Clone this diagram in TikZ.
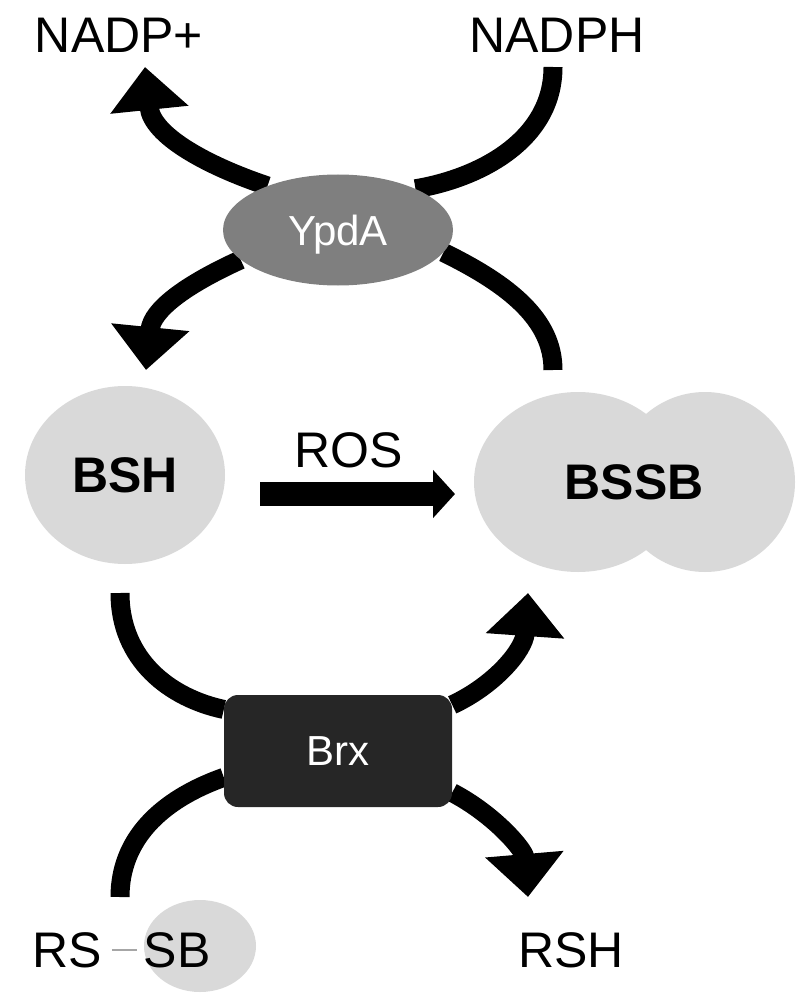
\documentclass[tikz,border=0pt]{standalone}
\usepackage{fontspec}
\setmainfont{Liberation Sans}
\usetikzlibrary{arrows.meta,shapes.geometric,backgrounds}

\definecolor{lightgrey}{HTML}{D9D9D9}
\definecolor{midgrey}{HTML}{7F7F7F}
\definecolor{darkbox}{HTML}{262626}
\definecolor{dashgrey}{HTML}{A6A6A6}

\tikzset{
  big/.style={font=\fontsize{50}{60}\selectfont, inner sep=0pt},
  enz/.style={font=\fontsize{42}{50}\selectfont, text=white, inner sep=0pt},
  thiol/.style={ellipse, fill=lightgrey, inner sep=0pt},
  flow/.style={line width=19pt},
  head/.style={flow, -{Triangle[width=76pt,length=43pt]}},
}

\begin{document}
\begin{tikzpicture}[x=1pt,y=-1pt]
    \useasboundingbox (0,0) rectangle (800,1000);

    % enzymes
    \node[ellipse, fill=midgrey, minimum width=230pt, minimum height=111pt, enz, text depth=0pt] (ypda) at (338,230) {YpdA};
    \node[rectangle, rounded corners=14pt, fill=darkbox, minimum width=228pt, minimum height=112pt, enz] (brx) at (338,751) {Brx};

    % thiols
    \node[thiol, minimum width=200pt, minimum height=178pt, big] (bsh) at (125,475) {\textbf{BSH}};
    \node[thiol, minimum width=208pt, minimum height=180pt] (bssbl) at (578,482) {};
    \node[thiol, minimum width=180pt, minimum height=180pt] (bssbr) at (705,482) {};
    \node[big] (bssb) at (634,482) {\textbf{BSSB}};
    \node[thiol, minimum width=112pt, minimum height=92pt] (sbbg) at (200,946) {};

    % labels
    \node[big, anchor=base] (nadpp) at (119,53) {NADP+};
    \node[big, anchor=base] (nadph) at (557,53) {NADPH};
    \node[big, anchor=base] (ros) at (349,467) {ROS};
    \node[big, anchor=base] (rs) at (67,967) {RS};
    \node[big, anchor=base] (sb) at (177,967) {SB};
    \node[big, anchor=base] (rsh) at (571,967) {RSH};
    \draw[dashgrey, line width=2.5pt, shorten <=10pt, shorten >=6pt] (rs.east) -- (sb.west);

    % free ends
    \coordinate (nadpptip) at (145,67);
    \coordinate (nadphend) at (553,67);
    \coordinate (bshtip) at (146,370);
    \coordinate (bssbend) at (553,370);
    \coordinate (bshend) at (120,593);
    \coordinate (bssbtip) at (528,593);
    \coordinate (rssbend) at (120,897);
    \coordinate (rshtip) at (528,897);
    \coordinate (ros1) at (260,494);
    \coordinate (ros2) at (455,494);

    \begin{scope}[on background layer]
        \draw[head] (ypda.148) .. controls (205,165) and (152,135) .. (nadpptip);
        \draw[flow] (nadphend) .. controls (553,140) and (480,178) .. (ypda.28);
        \draw[head] (ypda.197) .. controls (185,285) and (152,310) .. (bshtip);
        \draw[flow] (ypda.-12) .. controls (510,285) and (553,320) .. (bssbend);
        \draw[flow] (bshend) .. controls (120,660) and (170,698) .. (brx.160);
        \draw[head] (brx.22) .. controls (495,685) and (524,650) .. (bssbtip);
        \draw[flow] (brx.193) .. controls (160,800) and (120,840) .. (rssbend);
        \draw[head] (brx.-20) .. controls (495,815) and (524,850) .. (rshtip);
        \draw[line width=24pt, -{Triangle[width=47pt,length=22pt]}] (ros1) -- (ros2);
    \end{scope}
\end{tikzpicture}
\end{document}
